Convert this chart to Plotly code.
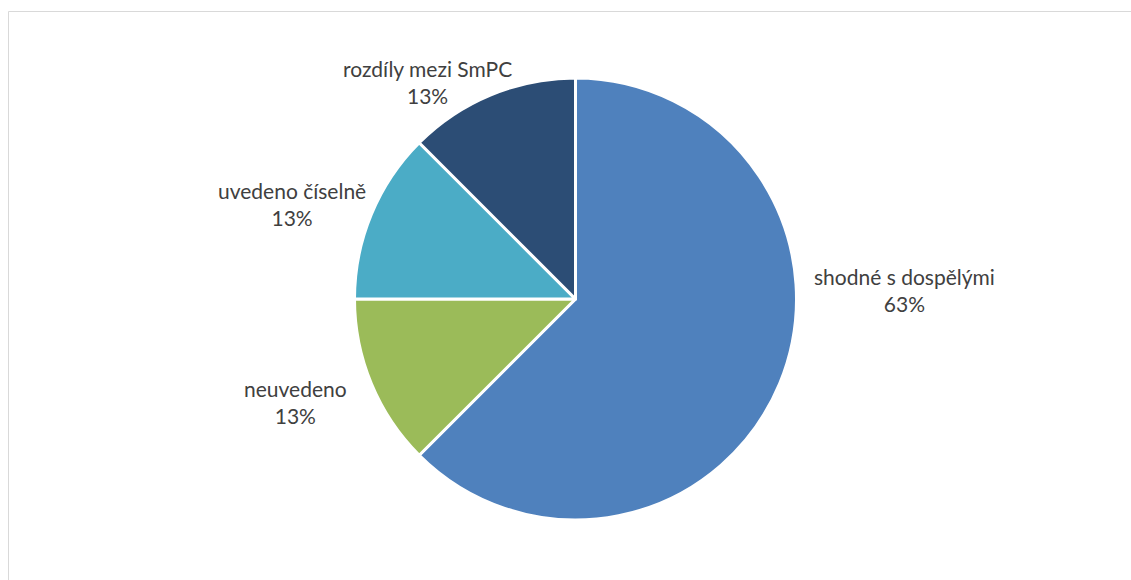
import plotly.graph_objects as go

# Category shares (percent of items)
categories = ["shodné s dospělými", "neuvedeno", "uvedeno číselně", "rozdíly mezi SmPC"]
shares = [62.5, 12.5, 12.5, 12.5]
colors = ["#4f81bd", "#9bbb59", "#4bacc6", "#2c4d75"]

# Label centre points (paper coordinates) for each category
label_pos = [(0.800, 0.500), (0.261, 0.307), (0.258, 0.648), (0.378, 0.859)]

W, H = 1131, 580

fig = go.Figure(
    go.Pie(
        labels=categories,
        values=shares,
        sort=False,
        direction="clockwise",
        rotation=0,
        marker=dict(colors=colors, line=dict(color="white", width=3)),
        textinfo="none",
        hoverinfo="label+percent",
        showlegend=False,
        domain=dict(x=[354.5 / W, 796.5 / W], y=[60 / H, 502 / H]),
    )
)

total = sum(shares)
for name, val, (px, py) in zip(categories, shares, label_pos):
    pct = round(val / total * 100 + 1e-9)
    fig.add_annotation(
        x=px, y=py, xref="paper", yref="paper",
        xanchor="center", yanchor="middle",
        text=f"{name}<br>{pct:.0f}%",
        showarrow=False,
        align="center",
        font=dict(family="Lato", size=21, color="#404040"),
    )

# Chart-area frame
fig.add_shape(
    type="rect", xref="paper", yref="paper",
    x0=8.5 / W, x1=1.02, y0=-0.02, y1=1 - 11.5 / H,
    line=dict(color="#d9d9d9", width=1),
)

fig.update_layout(
    width=W, height=H,
    margin=dict(l=0, r=0, t=0, b=0),
    paper_bgcolor="white",
    plot_bgcolor="white",
)

fig.write_html("out.html")
